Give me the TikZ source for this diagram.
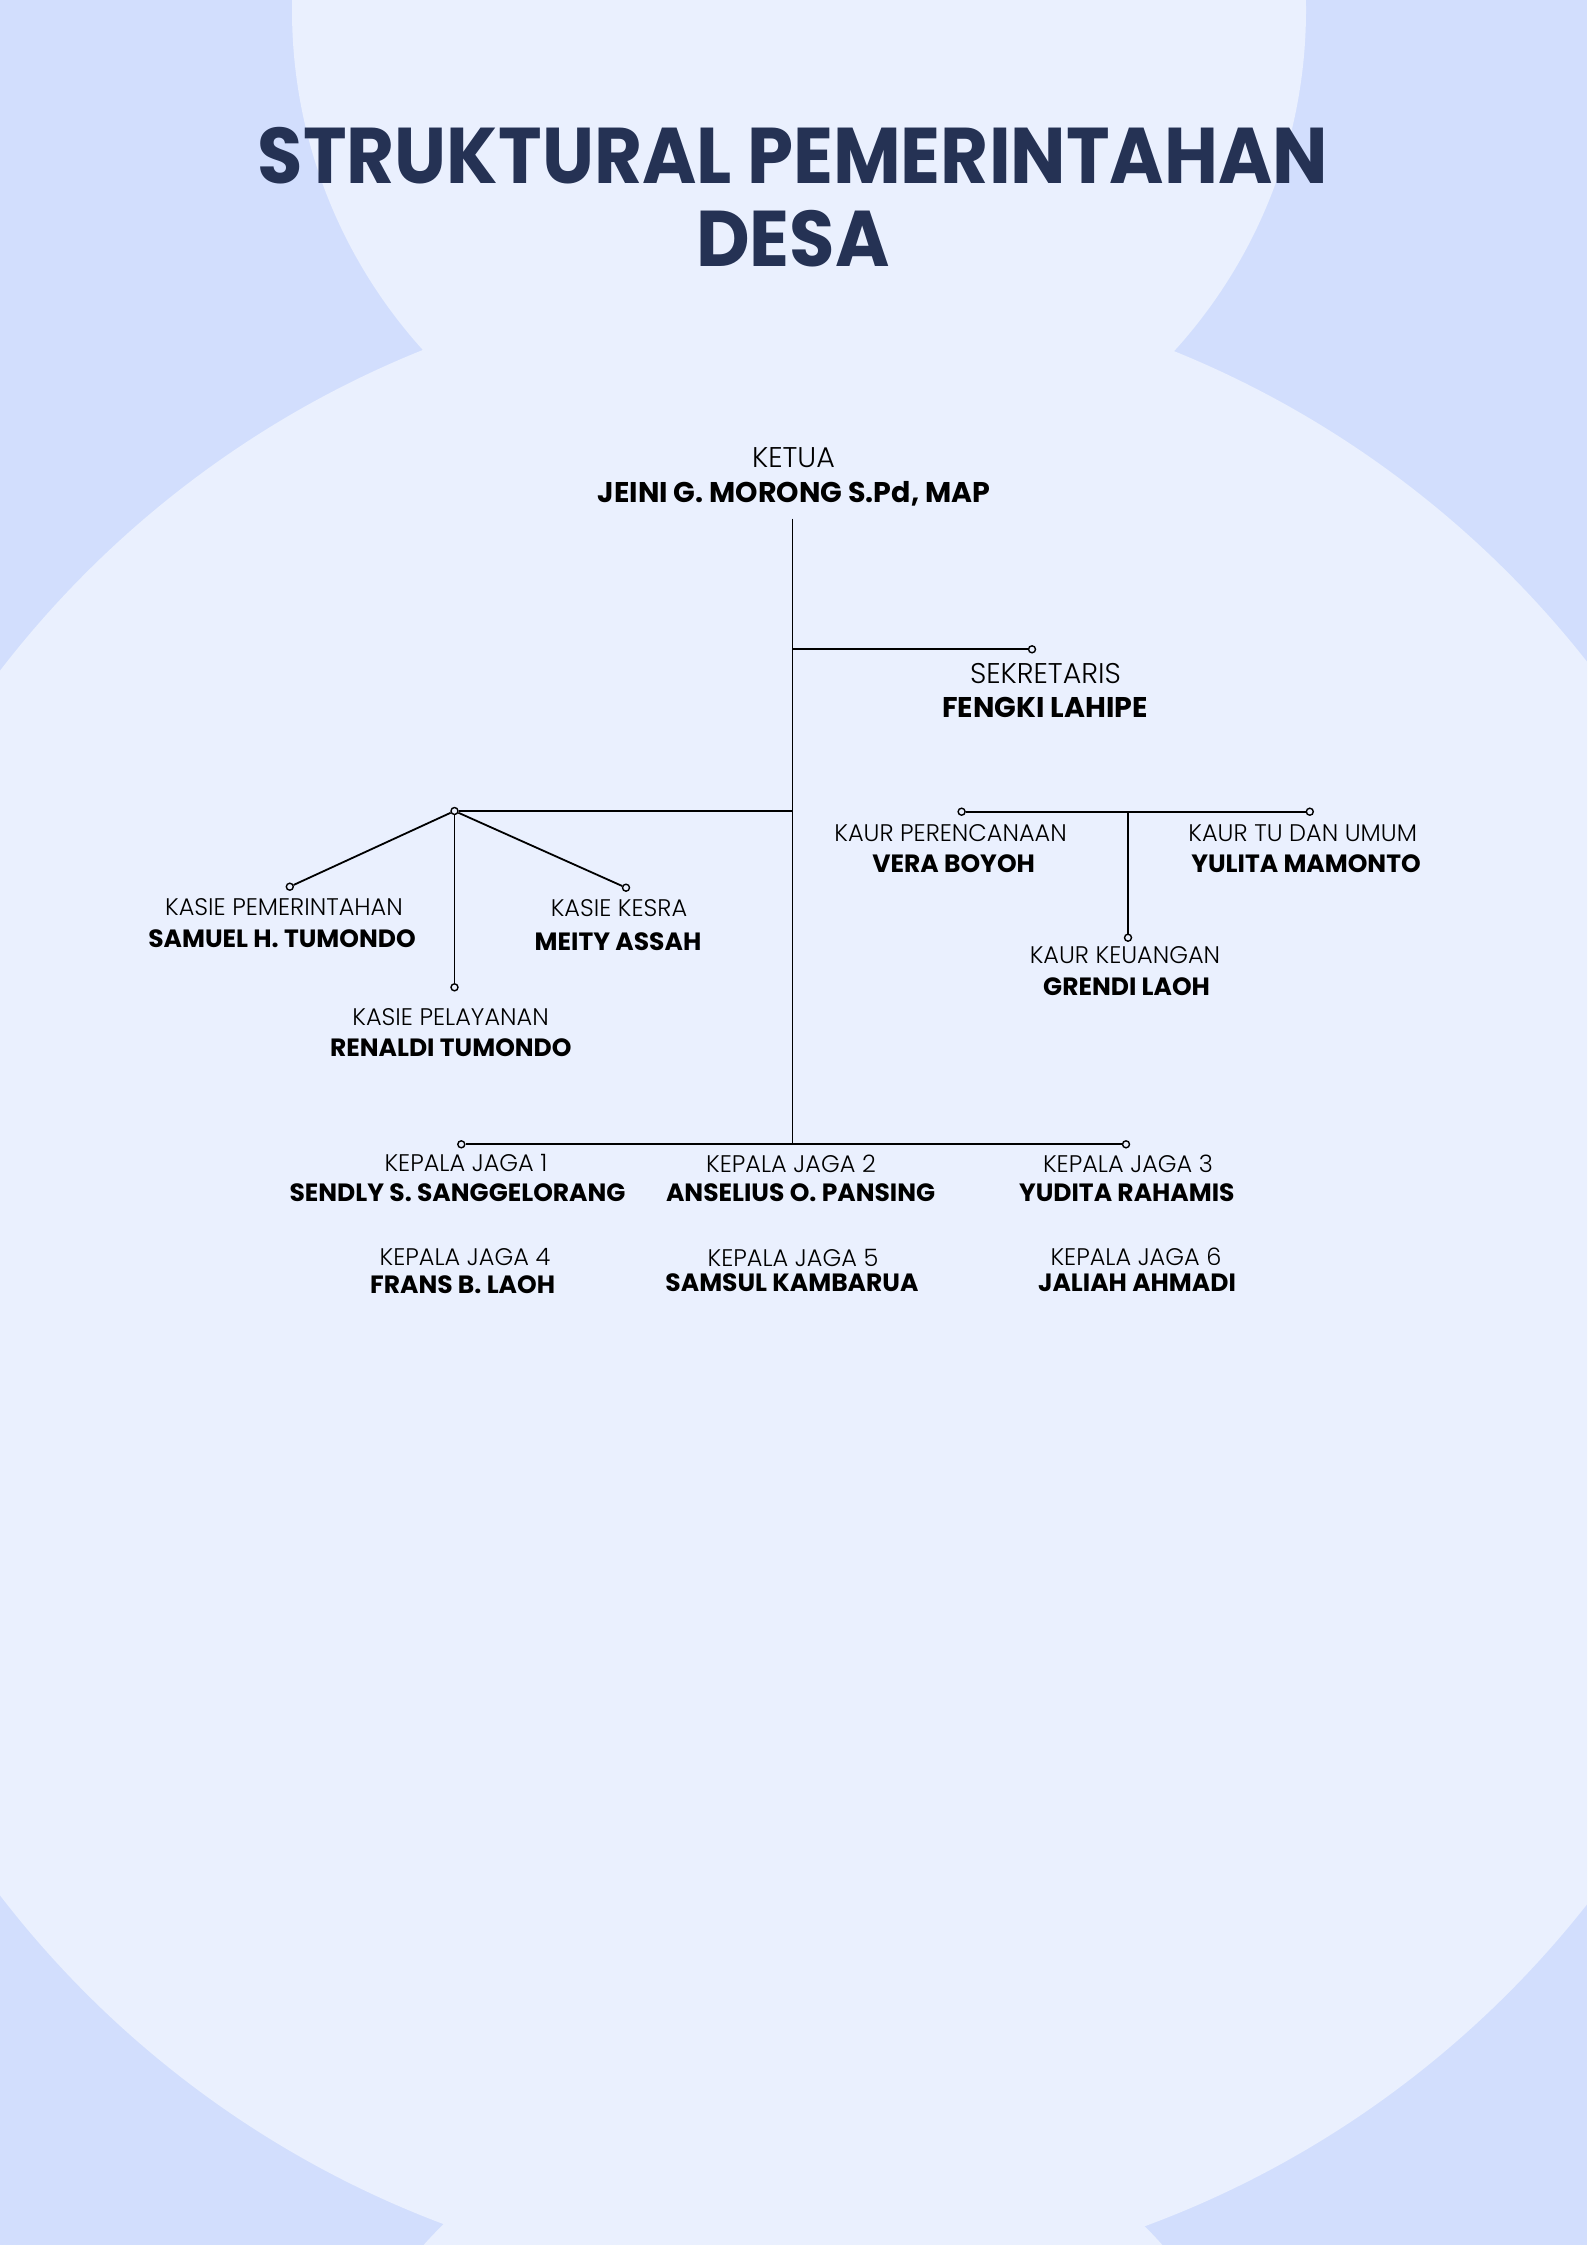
\documentclass[tikz,border=0pt]{standalone}
\usepackage{fontspec}
\usetikzlibrary{calc}
\setmainfont{Poppins}
\IfFontExistsTF{Poppins Light}
  {\newfontfamily\lightfont{Poppins Light}}
  {\newfontfamily\lightfont{Poppins}}
\newfontfamily\titlefont{Poppins}[FakeStretch=0.934]
\definecolor{bgdark}{HTML}{D2DEFD}
\definecolor{bglight}{HTML}{EAF0FE}
\definecolor{titleblue}{HTML}{253254}

\begin{document}
\begin{tikzpicture}[
    x=1pt, y=-1pt,
    line width=1.8pt,
    lbl/.style={font=\lightfont\fontsize{28.5}{28.5}\selectfont, inner sep=0pt, anchor=base},
    lblsm/.style={font=\lightfont\fontsize{24}{24}\selectfont, inner sep=0pt, anchor=base},
    nmbig/.style={font=\bfseries\fontsize{28.5}{28.5}\selectfont, inner sep=0pt, anchor=base},
    nm/.style={font=\bfseries\fontsize{25}{25}\selectfont, inner sep=0pt, anchor=base},
    dot/.style={circle, draw, fill=bglight, line width=1.4pt, inner sep=0pt,
                minimum size=7pt}
  ]
  % Background
  \useasboundingbox (0,0) rectangle (1587,2245);
  \fill[bgdark] (0,0) rectangle (1587,2245);
  \begin{scope}
    \clip (0,0) rectangle (1587,2245);
    \fill[bglight] (799,10) circle[radius=507pt];
    \fill[bglight] (797,1283) circle[radius=1005pt];
    \fill[bglight] (793,2576) circle[radius=496pt];
  \end{scope}

  % Title
  \node[font=\titlefont\bfseries\fontsize{79}{79}\selectfont, text=titleblue,
        inner sep=0pt, anchor=base] (title1) at (793,184) {STRUKTURAL PEMERINTAHAN};
  \node[font=\titlefont\bfseries\fontsize{79}{79}\selectfont, text=titleblue,
        inner sep=0pt, anchor=base] (title2) at (793,266) {DESA};

  % Ketua and sekretaris
  \node[lbl] (ketua) at (793.5,467.3) {KETUA};
  \node[nmbig] (ketuanm) at (794,502.7) {JEINI G. MORONG S.Pd, MAP};
  \node[dot] (dsek) at (1032,649.3) {};
  \node[lbl] (sek) at (1045.5,683.3) {SEKRETARIS};
  \node[nmbig] (seknm) at (1045,717.7) {FENGKI LAHIPE};

  % Kasie
  \node[dot] (dhub) at (454.5,811) {};
  \node[dot] (dkas1) at (289.8,886.7) {};
  \node[dot] (dkas2) at (454.5,987.3) {};
  \node[dot] (dkas3) at (626,887.7) {};
  \node[lblsm] (kas1) at (284,915) {KASIE PEMERINTAHAN};
  \node[nm] (kas1nm) at (282,947.7) {SAMUEL H. TUMONDO};
  \node[lblsm] (kas3) at (619,916.7) {KASIE KESRA};
  \node[nm] (kas3nm) at (618,950) {MEITY ASSAH};
  \node[lblsm] (kas2) at (450.6,1025.7) {KASIE PELAYANAN};
  \node[nm] (kas2nm) at (450.8,1056) {RENALDI TUMONDO};

  % Kaur
  \node[dot] (dkaur1) at (961.6,811.7) {};
  \node[dot] (dkaur3) at (1309.8,811.7) {};
  \node[dot] (dkaur2) at (1128,937.7) {};
  \node[lblsm] (kaur1) at (950.6,841) {KAUR PERENCANAAN};
  \node[nm] (kaur1nm) at (953.6,872.7) {VERA BOYOH};
  \node[lblsm] (kaur3) at (1302.7,841) {KAUR TU DAN UMUM};
  \node[nm] (kaur3nm) at (1306,872.7) {YULITA MAMONTO};
  \node[lblsm] (kaur2) at (1125,963.3) {KAUR KEUANGAN};
  \node[nm] (kaur2nm) at (1126.6,995) {GRENDI LAOH};

  % Kepala jaga
  \node[dot] (djaga1) at (461.3,1144.3) {};
  \node[dot] (djaga3) at (1126,1144.3) {};
  \node[lblsm] (jaga1) at (466,1171.7) {KEPALA JAGA 1};
  \node[nm] (jaga1nm) at (457.5,1201.7) {SENDLY S. SANGGELORANG};
  \node[lblsm] (jaga2) at (791,1172) {KEPALA JAGA 2};
  \node[nm] (jaga2nm) at (800.6,1201.7) {ANSELIUS O. PANSING};
  \node[lblsm] (jaga3) at (1128,1172) {KEPALA JAGA 3};
  \node[nm] (jaga3nm) at (1126.8,1201.7) {YUDITA RAHAMIS};
  \node[lblsm] (jaga4) at (465,1265.7) {KEPALA JAGA 4};
  \node[nm] (jaga4nm) at (462.6,1293.3) {FRANS B. LAOH};
  \node[lblsm] (jaga5) at (793,1266.7) {KEPALA JAGA 5};
  \node[nm] (jaga5nm) at (792,1291.7) {SAMSUL KAMBARUA};
  \node[lblsm] (jaga6) at (1136,1265.7) {KEPALA JAGA 6};
  \node[nm] (jaga6nm) at (1137,1291.7) {JALIAH AHMADI};

  % Lines
  \coordinate (top) at (792.5,518.7);
  \coordinate (bot) at (792.5,1144.3);
  \draw (top) -- (bot);
  \draw (top |- dsek) -- (dsek);
  \draw (top |- dhub) -- (dhub);
  \draw (dhub) -- (dkas1);
  \draw (dhub) -- (dkas2);
  \draw (dhub) -- (dkas3);
  \draw (dkaur1) -- (dkaur3);
  \draw (dkaur2 |- dkaur1) -- (dkaur2);
  \draw (djaga1) -- (djaga3);
\end{tikzpicture}
\end{document}
